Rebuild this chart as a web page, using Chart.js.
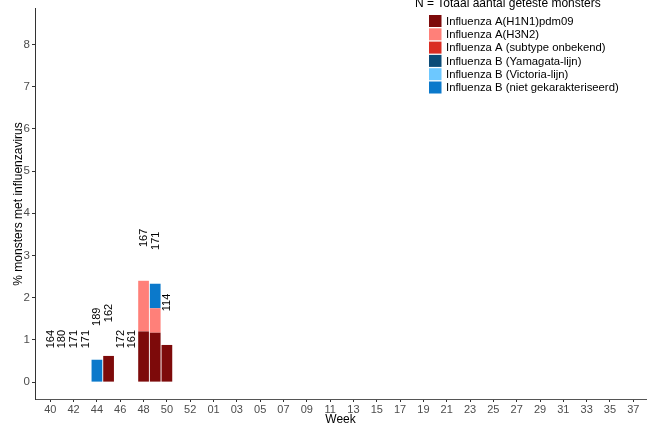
<!DOCTYPE html>
<html>
<head>
<meta charset="utf-8">
<script src="https://cdn.jsdelivr.net/npm/chart.js@4.4.1/dist/chart.umd.min.js"></script>
<style>
  html, body { margin: 0; padding: 0; background: #ffffff; }
  canvas { display: block; }
</style>
</head>
<body>
<canvas id="chart" width="657" height="428"></canvas>
<script>
// Surveillance season weeks (week 40 through week 37 of the next year)
const weeks = ['40','41','42','43','44','45','46','47','48','49','50','51','52','53',
  '01','02','03','04','05','06','07','08','09','10','11','12','13','14','15','16','17','18',
  '19','20','21','22','23','24','25','26','27','28','29','30','31','32','33','34','35','36','37'];

// Weeks with results so far
const reportedWeeks = ['40','41','42','43','44','45','46','47','48','49','50'];

// N = total number of tested samples per week
const testedN = [164, 180, 171, 171, 189, 162, 172, 161, 167, 171, 114];

// % of samples positive per (sub)type
const aH1N1 = [0, 0, 0, 0, 0, 0.62, 0, 0, 1.20, 1.17, 0.88];
const aH3N2 = [0, 0, 0, 0, 0, 0, 0, 0, 1.20, 0.58, 0];
const aUnknown = [0, 0, 0, 0, 0, 0, 0, 0, 0, 0, 0];
const bYamagata = [0, 0, 0, 0, 0, 0, 0, 0, 0, 0, 0];
const bVictoria = [0, 0, 0, 0, 0, 0, 0, 0, 0, 0, 0];
const bUntyped = [0, 0, 0, 0, 0.53, 0, 0, 0, 0, 0.58, 0];

const yTickValues = [0, 1, 2, 3, 4, 5, 6, 7, 8];

const FONT = '"Liberation Sans", Arial, Helvetica, sans-serif';
Chart.defaults.font.family = FONT;

const toPoints = vals => reportedWeeks.map((w, i) => ({ x: weeks.indexOf(w), y: vals[i] }));

const series = [
  { label: 'Influenza A(H1N1)pdm09', values: aH1N1, color: '#7d0a0a' },
  { label: 'Influenza A(H3N2)', values: aH3N2, color: '#ff8079' },
  { label: 'Influenza A (subtype onbekend)', values: aUnknown, color: '#da2c22' },
  { label: 'Influenza B (Yamagata-lijn)', values: bYamagata, color: '#0b4b77' },
  { label: 'Influenza B (Victoria-lijn)', values: bVictoria, color: '#6dc8ff' },
  { label: 'Influenza B (niet gekarakteriseerd)', values: bUntyped, color: '#0b79cb' }
];

// Rotated N labels above each weekly stack
const countLabels = {
  id: 'countLabels',
  afterDatasetsDraw(chart) {
    const { ctx, scales: { x, y } } = chart;
    ctx.save();
    ctx.font = '11px ' + FONT;
    ctx.fillStyle = '#000000';
    ctx.textAlign = 'left';
    ctx.textBaseline = 'middle';
    reportedWeeks.forEach((w, i) => {
      const total = chart.data.datasets.reduce((s, ds) => s + ds.data[i].y, 0);
      const px = x.getPixelForValue(weeks.indexOf(w));
      const py = y.getPixelForValue(total + 0.8);
      ctx.save();
      ctx.translate(px + 0.5, py);
      ctx.rotate(-Math.PI / 2);
      ctx.fillText(String(testedN[i]), 0, 0);
      ctx.restore();
    });
    ctx.restore();
  }
};

// Key drawn in the top-right corner, listing every dataset
const boxLegend = {
  id: 'boxLegend',
  afterDraw(chart) {
    const ctx = chart.ctx;
    ctx.save();
    ctx.fillStyle = '#000000';
    ctx.font = '12px ' + FONT;
    ctx.textAlign = 'left';
    ctx.textBaseline = 'alphabetic';
    ctx.fillText('N = Totaal aantal geteste monsters', 415, 7);
    ctx.font = '11.3px ' + FONT;
    ctx.textBaseline = 'middle';
    chart.data.datasets.forEach((ds, i) => {
      const top = 15 + i * 13.3;
      ctx.fillStyle = ds.backgroundColor;
      ctx.fillRect(429, top, 12.5, 12);
      ctx.fillStyle = '#000000';
      ctx.fillText(ds.label, 446, top + 6.5);
    });
    ctx.restore();
  }
};

new Chart(document.getElementById('chart'), {
  type: 'bar',
  data: {
    datasets: series.map(s => ({
      label: s.label,
      data: toPoints(s.values),
      backgroundColor: s.color,
      borderWidth: 0,
      barPercentage: 0.92,
      categoryPercentage: 1
    }))
  },
  options: {
    responsive: false,
    animation: false,
    devicePixelRatio: 1,
    layout: { padding: { top: 7, right: 11, left: 0, bottom: 0 } },
    plugins: {
      legend: { display: false },
      tooltip: { enabled: false }
    },
    scales: {
      x: {
        type: 'linear',
        stacked: true,
        min: -1.31,
        max: 51.09,
        offset: false,
        afterBuildTicks: s => {
          s.ticks = weeks.map((w, i) => ({ value: i })).filter(t => t.value % 2 === 0);
        },
        afterFit: s => { s.height = 29; },
        ticks: {
          autoSkip: false,
          maxRotation: 0,
          color: '#4d4d4d',
          font: { size: 11 },
          padding: 1,
          callback: v => weeks[v]
        },
        grid: { offset: false, drawOnChartArea: false, drawTicks: true, tickLength: 3, color: '#333333' },
        border: { display: true, color: '#555555', width: 1 },
        title: {
          display: true, text: 'Week', color: '#000000',
          font: { size: 12 }, padding: { top: 0, bottom: 1 }
        }
      },
      y: {
        stacked: true,
        min: -0.40,
        max: 8.84,
        afterBuildTicks: s => { s.ticks = yTickValues.map(v => ({ value: v })); },
        afterFit: s => { s.width = 35; },
        ticks: { color: '#4d4d4d', font: { size: 11.5 }, padding: 2 },
        grid: { drawOnChartArea: false, drawTicks: true, tickLength: 3, color: '#333333' },
        border: { display: true, color: '#333333', width: 1 },
        title: {
          display: true, text: '% monsters met influenzavirus', color: '#000000',
          font: { size: 12 }, padding: { top: 11, bottom: 0 }
        }
      }
    }
  },
  plugins: [countLabels, boxLegend]
});
</script>
</body>
</html>
